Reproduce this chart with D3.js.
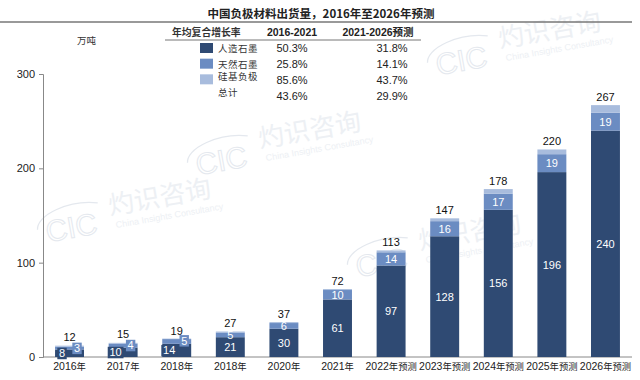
<!DOCTYPE html>
<html><head><meta charset="utf-8">
<script src="https://cdn.jsdelivr.net/npm/d3@7"></script>
<style>
body{margin:0;background:#fff;}
svg{display:block;}
</style></head>
<body><svg id="c" width="640" height="380"></svg>
<script>
const categories = ["2016年","2017年","2018年","2018年","2020年","2021年","2022年预测","2023年预测","2024年预测","2025年预测","2026年预测"];
const artificial = [8,10,14,21,30,61,97,128,156,196,240];
const natural = [3,4,5,5,6,10,14,16,17,19,19];
const silicon = [1,1,0.5,1,1,1,2,3,5,5,8];
const totals = [12,15,19,27,37,72,113,147,178,220,267];
const yTicks = [0,100,200,300];
const seriesNames = ["人造石墨","天然石墨","硅基负极","总计"];
const cagr1 = ["50.3%","25.8%","85.6%","43.6%"];
const cagr2 = ["31.8%","14.1%","43.7%","29.9%"];
const tableHead = ["年均复合增长率","2016-2021","2021-2026预测"];
const title = "中国负极材料出货量，2016年至2026年预测";
const unit = "万吨";
const colors = ["#2f4a73","#6b8cc2","#a8bcdd"];

const svg = d3.select("#c");
const num = "'Liberation Sans', Arial, sans-serif";
const cjk = "'Noto Sans CJK SC', sans-serif";

// faint watermarks
const wm = svg.append("g").attr("fill","none");
const marks = [[260,148],[500,48],[420,250],[110,215]];
marks.forEach(([mx,my])=>{
  const g = wm.append("g").attr("transform",`translate(${mx},${my}) rotate(-10)`);
  g.append("text").attr("x",-66).attr("y",16).text("CIC").attr("font-family",num).attr("font-size",30)
   .attr("fill","none").attr("stroke","#e4e8ee").attr("stroke-width",1);
  g.append("path").attr("d","M-74,2 A42,20 0 0 1 -10,-14").attr("stroke","#e4e8ee").attr("stroke-width",1.3);
  g.append("text").attr("x",0).attr("y",0).text("灼识咨询").attr("font-family",cjk).attr("font-size",26)
   .attr("fill","#edf0f4");
  g.append("text").attr("x",4).attr("y",14).text("China Insights Consultancy").attr("font-family",num).attr("font-size",9)
   .attr("fill","#edf0f4");
});

// title
svg.append("text").attr("x",321).attr("y",18).attr("text-anchor","middle")
  .attr("font-family",cjk).attr("font-weight","bold").attr("font-size",11.5).attr("fill","#222").text(title);
svg.append("line").attr("x1",0).attr("x2",632).attr("y1",22).attr("y2",22).attr("stroke","#777").attr("stroke-width",1.3);

// table
svg.append("text").attr("x",172).attr("y",36).attr("font-family",cjk).attr("font-weight","bold").attr("font-size",9.8).attr("fill","#333").text(tableHead[0]);
svg.append("text").attr("x",292).attr("y",36).attr("text-anchor","middle").attr("font-family",num).attr("font-weight","bold").attr("font-size",10.5).attr("fill","#222").text(tableHead[1]);
svg.append("text").attr("x",378).attr("y",36).attr("text-anchor","middle").attr("font-family",num+","+cjk).attr("font-weight","bold").attr("font-size",10.5).attr("fill","#222").text(tableHead[2]);
svg.append("line").attr("x1",165).attr("x2",421).attr("y1",40).attr("y2",40).attr("stroke","#777").attr("stroke-width",1);
const rowY = d3.scaleLinear().domain([0,3]).range([52,99]);
seriesNames.forEach((n,i)=>{
  if(i<3) svg.append("rect").attr("x",200).attr("y",rowY(i)-9).attr("width",13).attr("height",10).attr("fill",colors[i]);
  svg.append("text").attr("x",218).attr("y",rowY(i)-(i>=2?3:0)).attr("font-family",cjk).attr("font-size",9.5)
    .attr("letter-spacing",0.5).attr("fill","#333").text(n);
  svg.append("text").attr("x",292).attr("y",rowY(i)+(i>=2?1:0)).attr("text-anchor","middle").attr("font-family",num).attr("font-size",11).attr("fill","#222").text(cagr1[i]);
  svg.append("text").attr("x",392).attr("y",rowY(i)+(i>=2?1:0)).attr("text-anchor","middle").attr("font-family",num).attr("font-size",11).attr("fill","#222").text(cagr2[i]);
});
svg.append("text").attr("x",77).attr("y",44).attr("font-family",cjk).attr("font-size",9.5).attr("fill","#333").text(unit);

// scales
const x = d3.scaleBand().domain(d3.range(categories.length)).range([43,632]).paddingInner(0.46).paddingOuter(0.225);
const y = d3.scaleLinear().domain([0,300]).range([357,74]);

// axes
const ya = svg.append("g").attr("transform","translate(43,0)")
  .call(d3.axisLeft(y).tickValues(yTicks).tickSize(4).tickPadding(4));
ya.select(".domain").attr("stroke","#888");
ya.selectAll(".tick line").attr("stroke","#888");
ya.selectAll("text").attr("font-family",num).attr("font-size",11).attr("fill","#222");

const xa = svg.append("g").attr("transform","translate(0,357)")
  .call(d3.axisBottom(x).tickSize(0).tickPadding(6).tickFormat(""));
xa.select(".domain").attr("stroke","#888").attr("d","M43,0H632");
xa.selectAll(".tick text").each(function(i){
  const t = d3.select(this).attr("fill","#222").attr("font-family",num);
  const lbl = categories[i];
  t.append("tspan").attr("font-size",10.5).text(lbl.slice(0,4));
  t.append("tspan").attr("font-family",cjk).attr("font-size",9.3).text(lbl.slice(4));
});

// bars
const stackData = categories.map((c,i)=>({i, a:artificial[i], n:natural[i], s:silicon[i]}));
const stack = d3.stack().keys(["a","n","s"])(stackData);
const bars = svg.append("g");
stack.forEach((layer,k)=>{
  bars.selectAll(null).data(layer).enter().append("rect")
    .attr("x",d=>x(d.data.i)).attr("width",x.bandwidth())
    .attr("y",d=>y(d[1])).attr("height",d=>y(d[0])-y(d[1]))
    .attr("fill",colors[k]);
});

// segment labels
const lab = svg.append("g").attr("font-family",num).attr("font-size",11).attr("fill","#fff").attr("text-anchor","middle");
[0,1].forEach(k=>{
  stack[k].forEach(d=>{
    const i = d.data.i;
    const cx = x(i)+x.bandwidth()/2;
    const small = (y(0)-y(d.data.a)) < 14;
    const v = String(d[1]-d[0]);
    let tx = cx, ty = (y(d[0])+y(d[1]))/2 + 4;
    if(small){
      tx = cx + (k===0?-7.5:7.5);
      ty = k===0 ? (y(d[0])+y(d[1]))/2 + 4 : (y(d[1])+5.5);
      lab.append("rect").attr("x",tx-v.length*3.2-1.5).attr("y",ty-9.5)
        .attr("width",v.length*6.4+3).attr("height",11.5).attr("fill",colors[k]);
    }
    lab.append("text").attr("x",tx).attr("y",ty).text(v);
  });
});
// totals
svg.append("g").selectAll("text").data(totals).enter().append("text")
  .attr("x",(d,i)=>x(i)+x.bandwidth()/2).attr("y",d=>y(d)-4.5)
  .attr("text-anchor","middle").attr("font-family",num).attr("font-size",11).attr("fill","#111").text(d=>d);
</script></body></html>
